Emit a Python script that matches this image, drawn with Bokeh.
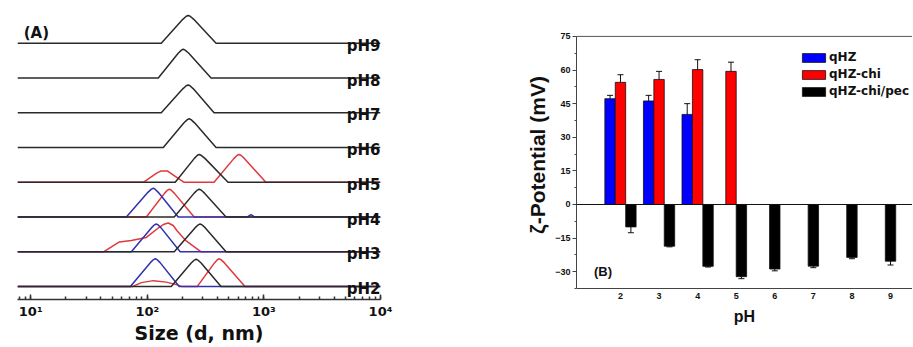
from bokeh.plotting import figure
from bokeh.layouts import row
from bokeh.models import (ColumnDataSource, Range1d, LinearAxis, FixedTicker, SingleIntervalTicker,
                          CustomJSTickFormatter, Whisker, TeeHead, Span, Label, Legend, LegendItem)
from bokeh.embed import file_html
from bokeh.resources import INLINE
from bokeh.core.properties import value

# ---------------- Panel A data: DLS size distributions (size in nm, intensity a.u.) ----------------
ph_levels = [2, 3, 4, 5, 6, 7, 8, 9]
ph_names = ["pH2", "pH3", "pH4", "pH5", "pH6", "pH7", "pH8", "pH9"]

ph2_qhz_d = [71.6, 106.1, 113.1, 117.1, 121.0, 128.7, 187.7]
ph2_qhz_i = [0, 24.1, 27.2, 28, 27.2, 24.1, 0]
ph2_chi_d = [74.4, 88.9, 112.6, 145.4, 177.0, 199.1, 267.5, 378.3, 400.5, 412.5, 427.6, 456.9, 688.0]
ph2_chi_i = [0, 4, 6, 4.5, 2, 0, 0, 24.1, 27.2, 28, 27.2, 24.1, 0]
ph2_pec_d = [160.4, 237.8, 253.4, 262.3, 271.5, 289.4, 429.0]
ph2_pec_i = [0, 23.7, 26.7, 27.5, 26.7, 23.7, 0]

ph3_qhz_d = [73.0, 108.2, 115.3, 119.4, 123.4, 131.2, 191.4]
ph3_qhz_i = [0, 24.1, 27.2, 28, 27.2, 24.1, 0]
ph3_chi_d = [42.1, 57.6, 73.0, 98.1, 124.2, 137.0, 151.2, 166.8, 180.5, 215.4, 289.4]
ph3_chi_i = [0, 10, 11.5, 14.5, 24, 27.5, 29, 26.5, 21, 11, 0]
ph3_pec_d = [170.2, 256.2, 273.8, 283.7, 294.1, 314.4, 473.4]
ph3_pec_i = [0, 24.1, 27.2, 28, 27.2, 24.1, 0]

ph4_qhz_d = [66.1, 101.2, 108.4, 112.6, 116.5, 124.2, 184.0, 716, 774, 838]
ph4_qhz_i = [0, 24.9, 28.1, 29, 28.1, 24.9, 0, 0, 2.5, 0]
ph4_chi_d = [98.1, 140.8, 149.3, 154.2, 159.6, 170.2, 252.2]
ph4_chi_i = [0, 24.1, 27.2, 28, 27.2, 24.1, 0]
ph4_pec_d = [170.2, 252.2, 268.8, 278.2, 288.8, 309.5, 473.4]
ph4_pec_i = [0, 24.1, 27.2, 28, 27.2, 24.1, 0]

ph5_chi_d = [92.4, 119.4, 131.7, 148.3, 173.5, 207.1, 373.7, 554.1, 590.7, 611.3, 634.7, 680.0, 1040]
ph5_chi_i = [0, 9, 11.5, 11.5, 6, 0, 0, 24.1, 27.2, 28, 27.2, 24.1, 0]
ph5_pec_d = [173.5, 253.2, 269.2, 278.2, 289.6, 311.9, 492.4]
ph5_pec_i = [0, 24.1, 27.2, 28, 27.2, 24.1, 0]

ph6_pec_d = [137.0, 206.3, 220.5, 228.6, 237.2, 254.2, 388.8]
ph6_pec_i = [0, 24.9, 28.1, 29, 28.1, 24.9, 0]
ph7_pec_d = [131.7, 201.5, 215.8, 224.1, 232.3, 248.3, 373.7]
ph7_pec_i = [0, 24.1, 27.2, 28, 27.2, 24.1, 0]
ph8_pec_d = [124.2, 184.0, 196.2, 203.1, 211.0, 226.8, 352.3]
ph8_pec_i = [0, 24.9, 28.1, 29, 28.1, 24.9, 0]
ph9_pec_d = [131.7, 201.5, 215.8, 224.1, 233.1, 250.2, 388.8]
ph9_pec_i = [0, 24.1, 27.2, 28, 27.2, 24.1, 0]

# ---------------- Panel B data: zeta potential (mV) ----------------
zeta_ph = [2, 3, 4, 5, 6, 7, 8, 9]
qhz_ph = [2, 3, 4]
qhz_zeta = [47.2, 46.2, 40.2]
qhz_err = [1.5, 2.5, 4.8]
chi_ph = [2, 3, 4, 5]
chi_zeta = [54.5, 55.8, 60.2, 59.4]
chi_err = [3.4, 3.6, 4.4, 4.1]
pec_ph = [2, 3, 4, 5, 6, 7, 8, 9]
pec_zeta = [-10.0, -18.6, -27.6, -32.2, -28.8, -27.5, -23.6, -25.3]
pec_err = [2.6, 0.3, 0.3, 0.9, 0.8, 0.7, 0.6, 1.7]
zeta_axis_min, zeta_axis_max = -37.5, 75

# ---------------- styles ----------------
FA = "DejaVu Sans"
FB = "Liberation Sans"
C_BLUE_A, C_RED_A, C_BLACK_A = "#3030b0", "#e0383c", "#2a2a2a"
STEP = 35  # vertical offset between stacked traces
X_START, X_END = 7.7, 10000
TOP, BOTTOM = 10, 46   # shared borders of both panels (row aligns them)

# ================= Panel A =================
pA = figure(width=500, height=346, x_axis_type="log", y_axis_location=None,
            x_range=Range1d(X_START, X_END), y_range=Range1d(-13, 278),
            output_backend="svg", toolbar_location=None,
            min_border_left=17, min_border_right=120, min_border_top=TOP, min_border_bottom=BOTTOM)
pA.outline_line_color = None
pA.grid.visible = False

curvesA = {
    2: [(ph2_chi_d, ph2_chi_i, C_RED_A), (ph2_qhz_d, ph2_qhz_i, C_BLUE_A), (ph2_pec_d, ph2_pec_i, C_BLACK_A)],
    3: [(ph3_chi_d, ph3_chi_i, C_RED_A), (ph3_qhz_d, ph3_qhz_i, C_BLUE_A), (ph3_pec_d, ph3_pec_i, C_BLACK_A)],
    4: [(ph4_chi_d, ph4_chi_i, C_RED_A), (ph4_qhz_d, ph4_qhz_i, C_BLUE_A), (ph4_pec_d, ph4_pec_i, C_BLACK_A)],
    5: [(ph5_chi_d, ph5_chi_i, C_RED_A), (ph5_pec_d, ph5_pec_i, C_BLACK_A)],
    6: [(ph6_pec_d, ph6_pec_i, C_BLACK_A)],
    7: [(ph7_pec_d, ph7_pec_i, C_BLACK_A)],
    8: [(ph8_pec_d, ph8_pec_i, C_BLACK_A)],
    9: [(ph9_pec_d, ph9_pec_i, C_BLACK_A)],
}
for k, ph in enumerate(ph_levels):
    off = STEP * k
    for d, inten, col in curvesA[ph]:
        xs = [X_START] + list(d) + [X_END]
        ys = [off] + [v + off for v in inten] + [off]
        pA.line(xs, ys, line_color=col, line_width=1.5, line_join="round")

pA.text(x=[X_END] * len(ph_names), y=[STEP * k - 2.5 for k in range(len(ph_names))], text=ph_names,
        text_align="right", text_baseline="alphabetic", text_font=value(FA),
        text_font_style="bold", text_font_size="15px", text_color="#111111")

pA.add_layout(Label(x=8.7, y=255, text="(A)", text_align="left", text_baseline="middle",
                    text_font=FA, text_font_style="bold", text_font_size="15px", text_color="#111111"))

ax = pA.xaxis[0]
ax.formatter = CustomJSTickFormatter(code="""
const sup = {"0":"\u2070","1":"\u00b9","2":"\u00b2","3":"\u00b3","4":"\u2074","5":"\u2075","-":"\u207b"};
const e = Math.round(Math.log10(tick));
return "10" + String(e).split("").map(c => sup[c]).join("");
""")
ax.axis_label = "Size (d, nm)"
ax.axis_label_text_font = FA
ax.axis_label_text_font_style = "bold"
ax.axis_label_text_font_size = "19px"
ax.axis_label_text_color = "#111111"
ax.axis_label_standoff = 0
ax.major_label_text_font = FA
ax.major_label_text_font_style = "bold"
ax.major_label_text_font_size = "13px"
ax.major_label_text_color = "#111111"
ax.major_label_standoff = 4
ax.axis_line_color = "#333333"
ax.axis_line_width = 1.5
ax.major_tick_in = 5
ax.major_tick_out = 0
ax.minor_tick_in = 3
ax.minor_tick_out = 0
ax.major_tick_line_color = "#333333"
ax.minor_tick_line_color = "#333333"
ax.major_tick_line_width = 1.5
ax.minor_tick_line_width = 1.5

# ================= Panel B =================
BAR_W = 0.27
# frame spans the same height as panel A; the visible box (-37.5 .. 75) is drawn with bounds/fixed axis
pB = figure(width=412, height=346, x_range=Range1d(0.86, 9.57), y_range=Range1d(-42.39, 86.56),
            output_backend="svg", toolbar_location=None,
            min_border_left=76, min_border_right=0, min_border_top=TOP, min_border_bottom=BOTTOM)
pB.outline_line_color = None
pB.grid.visible = False

series = [("qHZ", qhz_ph, qhz_zeta, qhz_err, "#0000ff"),
          ("qHZ-chi", chi_ph, chi_zeta, chi_err, "#ff0000"),
          ("qHZ-chi/pec", pec_ph, pec_zeta, pec_err, "#000000")]
present = {ph: [s[0] for s in series if ph in s[1]] for ph in zeta_ph}

pB.add_layout(Span(location=0, dimension="width", line_color="#111111", line_width=1))
pB.add_layout(Span(location=zeta_axis_max, dimension="width", line_color="#555555", line_width=1))

items = []
for name, phs, vals, errs, col in series:
    xs = []
    for ph in phs:
        names = present[ph]
        n = len(names)
        i = names.index(name)
        xs.append(ph + (i - (n - 1) / 2) * BAR_W)
    src = ColumnDataSource(dict(x=xs, top=vals,
                                upper=[v + e for v, e in zip(vals, errs)],
                                lower=[v - e for v, e in zip(vals, errs)]))
    r = pB.vbar(x="x", top="top", bottom=0, width=BAR_W, source=src,
                fill_color=col, line_color="#111111", line_width=0.8)
    pB.add_layout(Whisker(source=src, base="x", upper="upper", lower="lower",
                          line_color="#111111", line_width=1,
                          upper_head=TeeHead(size=6, line_color="#111111", line_width=1),
                          lower_head=TeeHead(size=6, line_color="#111111", line_width=1)))
    items.append(LegendItem(label=name, renderers=[r]))

legend = Legend(items=items, location=(223, 201), orientation="vertical",
                glyph_width=29, glyph_height=11, label_height=14, spacing=3,
                padding=0, margin=0, label_standoff=1,
                border_line_color=None, background_fill_alpha=0,
                label_text_font=FA, label_text_font_style="bold",
                label_text_font_size="12px", label_text_color="#111111")
pB.add_layout(legend)

pB.add_layout(Label(x=1.547, y=-29.9, text="(B)", text_align="center", text_baseline="middle",
                    text_font=FB, text_font_style="bold", text_font_size="13px", text_color="#111111"))

ya = pB.yaxis[0]
ya.ticker = SingleIntervalTicker(interval=15, num_minor_ticks=2)
ya.bounds = (zeta_axis_min, zeta_axis_max)
ya.axis_label = "\u03b6-Potential (mV)"
ya.axis_label_text_font = FB
ya.axis_label_text_font_style = "bold"
ya.axis_label_text_font_size = "21px"
ya.axis_label_text_color = "#111111"
ya.axis_label_standoff = 3
ya.major_label_text_font = FB
ya.major_label_text_font_style = "bold"
ya.major_label_text_font_size = "9px"
ya.major_label_text_color = "#111111"
ya.major_label_standoff = 2
ya.major_tick_out = 4
ya.major_tick_in = 0
ya.minor_tick_out = 2
ya.minor_tick_in = 0
ya.axis_line_color = "#444444"
ya.major_tick_line_color = "#444444"
ya.minor_tick_line_color = "#444444"

# default bottom axis: only carries the "pH" title (no ticks, no line)
xt = pB.xaxis[0]
xt.ticker = FixedTicker(ticks=[])
xt.axis_line_color = None
xt.major_tick_out = 0
xt.major_tick_in = 0
xt.minor_tick_out = 0
xt.minor_tick_in = 0
xt.axis_label = "pH"
xt.axis_label_text_font = FB
xt.axis_label_text_font_style = "bold"
xt.axis_label_text_font_size = "16px"
xt.axis_label_text_color = "#111111"
xt.axis_label_standoff = 8

# tick axis drawn at the bottom of the visible box
xa = LinearAxis(fixed_location=zeta_axis_min, ticker=FixedTicker(ticks=zeta_ph),
                major_label_text_font=FB, major_label_text_font_style="bold",
                major_label_text_font_size="9px", major_label_text_color="#111111",
                major_label_standoff=4, major_tick_out=0, major_tick_in=0,
                minor_tick_out=0, minor_tick_in=0, axis_line_color="#444444")
pB.add_layout(xa, "below")

layout = row(pA, pB)
open("out.html", "w").write(file_html(layout, INLINE))
